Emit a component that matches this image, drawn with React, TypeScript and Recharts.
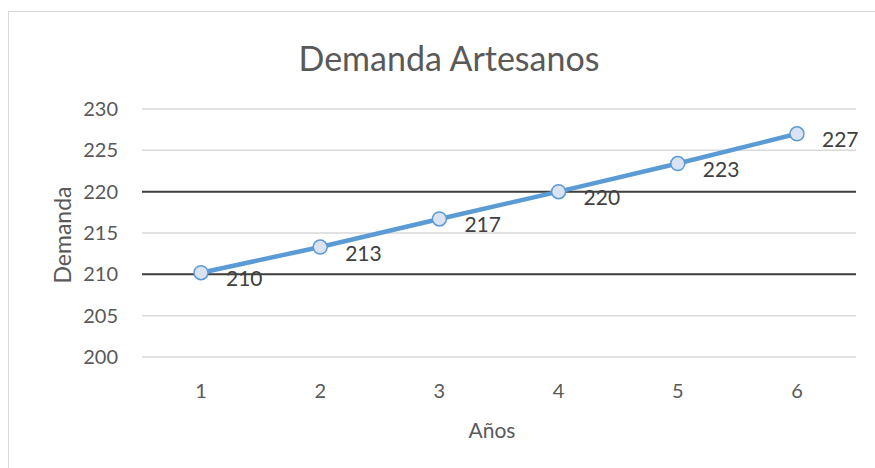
import React from 'react';
import { LineChart, Line, XAxis, YAxis, CartesianGrid, ReferenceLine, LabelList } from 'recharts';

const years = ['1', '2', '3', '4', '5', '6'];
const demand = [210.2, 213.3, 216.7, 220.0, 223.4, 227.0];
const yTicks = [200, 205, 210, 215, 220, 225, 230];
const darkLines = [210, 220];

const data = years.map((y, i) => ({ year: y, demanda: demand[i] }));

const FONT = 'Lato, "Open Sans", sans-serif';
const TEXT = '#595959';

const DataLabel = (props: any) => {
  const { x, y, value } = props;
  return (
    <text x={x + 25} y={y + 5} fill="#404040" fontSize={21} fontFamily={FONT} dominantBaseline="central">
      {Math.round(value)}
    </text>
  );
};

const YTitle = (props: any) => {
  const { viewBox } = props;
  const cy = viewBox.y + viewBox.height / 2 + 2;
  return (
    <text x={62} y={cy} transform={`rotate(-90, 62, ${cy})`} textAnchor="middle" dominantBaseline="central" fill={TEXT} fontSize={23} fontFamily={FONT}>
      Demanda
    </text>
  );
};

const XTitle = (props: any) => {
  const { viewBox } = props;
  const cx = viewBox.x + viewBox.width / 2;
  return (
    <text x={cx - 7} y={429} textAnchor="middle" dominantBaseline="central" fill={TEXT} fontSize={21} fontFamily={FONT}>
      Años
    </text>
  );
};

export default function App() {
  return (
    <div style={{ position: 'absolute', left: 0, top: 0, width: 875, height: 468, background: '#fff', overflow: 'hidden' }}>
      <div style={{ position: 'absolute', left: 8, top: 11, width: 900, height: 500, border: '1.5px solid #d9d9d9', boxSizing: 'border-box' }} />
      <div style={{ position: 'absolute', left: 0, top: 38, width: 898, textAlign: 'center', fontFamily: FONT, fontSize: 34, color: TEXT, lineHeight: '40px' }}>
        Demanda Artesanos
      </div>
      <div style={{ position: 'absolute', left: 0, top: 0 }}>
        <LineChart width={875} height={468} data={data} margin={{ top: 109, right: 19, bottom: 0, left: 0 }}>
          <CartesianGrid horizontal vertical={false} stroke="#d9d9d9" strokeWidth={1.5} />
          {darkLines.map((v) => (
            <ReferenceLine key={v} y={v} stroke="#3f3f3f" strokeWidth={2} />
          ))}
          <XAxis
            dataKey="year"
            height={111}
            padding={{ left: 59, right: 59 }}
            axisLine={false}
            tickLine={false}
            tickSize={0}
            tickMargin={27}
            tick={{ fill: TEXT, fontSize: 20, fontFamily: FONT }}
            label={{ content: XTitle }}
          />
          <YAxis
            width={142}
            domain={[200, 230]}
            ticks={yTicks}
            axisLine={false}
            tickLine={false}
            tickSize={0}
            tickMargin={24}
            tick={{ fill: TEXT, fontSize: 20, fontFamily: FONT }}
            label={{ content: YTitle }}
          />
          <Line
            type="linear"
            dataKey="demanda"
            stroke="#5b9bd5"
            strokeWidth={4.5}
            dot={{ r: 7, fill: '#dae3f3', stroke: '#5b9bd5', strokeWidth: 1.5 }}
            activeDot={false}
            isAnimationActive={false}
          >
            <LabelList dataKey="demanda" content={DataLabel} />
          </Line>
        </LineChart>
      </div>
    </div>
  );
}
